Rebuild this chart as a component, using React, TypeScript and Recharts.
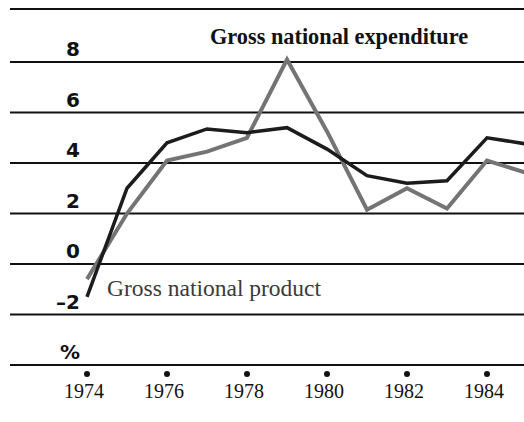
import React from "react";
import { LineChart, Line, XAxis, YAxis, CartesianGrid } from "recharts";

const years = [1974, 1975, 1976, 1977, 1978, 1979, 1980, 1981, 1982, 1983, 1984, 1985];
const expenditure = [-1.3, 3.0, 4.8, 5.35, 5.2, 5.4, 4.55, 3.5, 3.2, 3.3, 5.0, 4.75];
const product = [-0.6, 2.0, 4.1, 4.45, 5.0, 8.1, 5.25, 2.15, 3.0, 2.2, 4.1, 3.6];
const xTicks = [1974, 1976, 1978, 1980, 1982, 1984];
const yTickValues = [-4, -2, 0, 2, 4, 6, 8, 10.1];
const yTickLabels = ["%", "\u20132", "0", "2", "4", "6", "8", ""];

const data = years.map((y, i) => ({ year: y, exp: expenditure[i], gnp: product[i] }));

const YTick = (props: any) => {
  const { y, payload } = props;
  const idx = yTickValues.indexOf(payload.value);
  const label = idx >= 0 ? yTickLabels[idx] : "";
  return (
    <text
      x={80}
      y={y - 6}
      textAnchor="end"
      fontFamily="DejaVu Sans"
      fontWeight="bold"
      fontSize={20}
      fill="#111"
    >
      {label}
    </text>
  );
};

const XTick = (props: any) => {
  const { x, y, payload } = props;
  return (
    <g>
      <circle cx={x} cy={y + 9} r={3} fill="#111" />
      <text
        x={x - 3}
        y={y + 33}
        textAnchor="middle"
        fontFamily="Liberation Serif"
        fontSize={20}
        fill="#111"
      >
        {payload.value}
      </text>
    </g>
  );
};

export default function App() {
  return (
    <div
      style={{
        position: "absolute",
        left: 0,
        top: 0,
        width: 524,
        height: 422,
        overflow: "hidden",
        background: "#fff",
      }}
    >
      <LineChart
        width={527}
        height={422}
        data={data}
        margin={{ top: 9, right: 0, bottom: 0, left: 10 }}
      >
        <CartesianGrid horizontal vertical={false} stroke="#111" strokeWidth={2} strokeDasharray="" />
        <XAxis
          dataKey="year"
          type="number"
          domain={[1974, 1985]}
          ticks={xTicks}
          padding={{ left: 77, right: 0 }}
          axisLine={false}
          tickLine={false}
          tickSize={0}
          tickMargin={0}
          height={57}
          tick={<XTick />}
          interval={0}
        />
        <YAxis
          type="number"
          domain={[-4, 10.1]}
          ticks={yTickValues}
          width={1}
          mirror
          axisLine={false}
          tickLine={false}
          tick={<YTick />}
          interval={0}
        />
        <Line
          type="linear"
          dataKey="gnp"
          stroke="#747474"
          strokeWidth={4}
          dot={false}
          isAnimationActive={false}
        />
        <Line
          type="linear"
          dataKey="exp"
          stroke="#1c1c1c"
          strokeWidth={3.5}
          dot={false}
          isAnimationActive={false}
        />
      </LineChart>
      <svg
        width={524}
        height={422}
        style={{ position: "absolute", left: 0, top: 0, pointerEvents: "none" }}
      >
        <text x={210} y={44} fontFamily="Liberation Serif" fontWeight="bold" fontSize={22.3} fill="#111">
          Gross national expenditure
        </text>
        <text x={107} y={296} fontFamily="Liberation Serif" fontSize={23.5} fill="#3a3a3a">
          Gross national product
        </text>
      </svg>
    </div>
  );
}
